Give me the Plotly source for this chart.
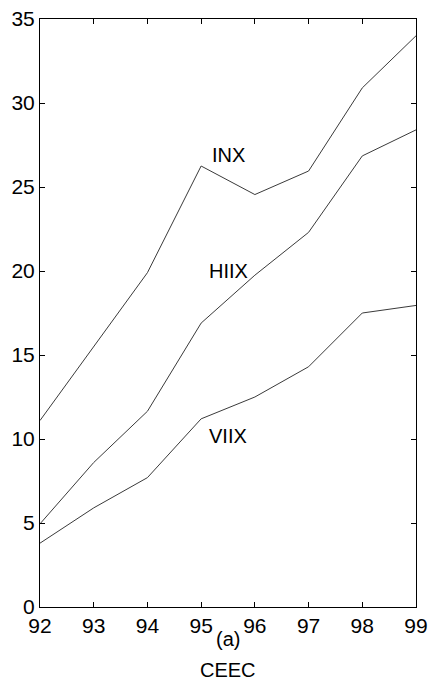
import plotly.graph_objects as go

years = [92, 93, 94, 95, 96, 97, 98, 99]
inx = [11.1, 15.5, 19.9, 26.25, 24.55, 25.95, 30.9, 34.0]
hiix = [4.95, 8.6, 11.65, 16.9, 19.75, 22.3, 26.85, 28.4]
viix = [3.8, 5.9, 7.7, 11.2, 12.5, 14.3, 17.5, 17.95]

series_names = ["INX", "HIIX", "VIIX"]
label_x = [95.5, 95.5, 95.5]
label_y = [26.9, 20.0, 10.2]

ticks_x = years
ticks_y = [0, 5, 10, 15, 20, 25, 30, 35]

FONT = "Liberation Sans, Arial, sans-serif"

fig = go.Figure()
for ys in (inx, hiix, viix):
    fig.add_trace(go.Scatter(x=years, y=ys, mode="lines",
                             line=dict(color="#3a3a3a", width=1),
                             showlegend=False, hoverinfo="skip"))

for name, lx, ly in zip(series_names, label_x, label_y):
    fig.add_annotation(x=lx, y=ly, xref="x", yref="y", text=name,
                       showarrow=False, font=dict(family=FONT, size=20, color="black"))

fig.add_annotation(x=0.5, y=0, xref="paper", yref="paper", text="(a)",
                   showarrow=False, yshift=-19, yanchor="top",
                   font=dict(family=FONT, size=20, color="black"))
fig.add_annotation(x=0.5, y=0, xref="paper", yref="paper", text="CEEC",
                   showarrow=False, yshift=-50, yanchor="top",
                   font=dict(family=FONT, size=20, color="black"))

axis_common = dict(showline=True, linecolor="black", linewidth=1, mirror="ticks",
                   ticks="inside", ticklen=5, tickcolor="black", tickwidth=1,
                   showgrid=False, zeroline=False, automargin=False,
                   tickfont=dict(family=FONT, size=21, color="black"))

fig.update_xaxes(range=[92, 99], tickvals=ticks_x, ticktext=[str(t) for t in ticks_x],
                 **axis_common)
fig.update_yaxes(range=[0, 35], tickvals=ticks_y, ticktext=[str(t) for t in ticks_y],
                 **axis_common)

fig.update_layout(width=430, height=686,
                  margin=dict(l=40, r=14, t=19, b=79, pad=0),
                  plot_bgcolor="white", paper_bgcolor="white",
                  font=dict(family=FONT, color="black"))

fig.write_html("out.html", config={"displayModeBar": False},
               post_script="document.body.style.margin='0px';document.body.style.overflow='hidden';")
